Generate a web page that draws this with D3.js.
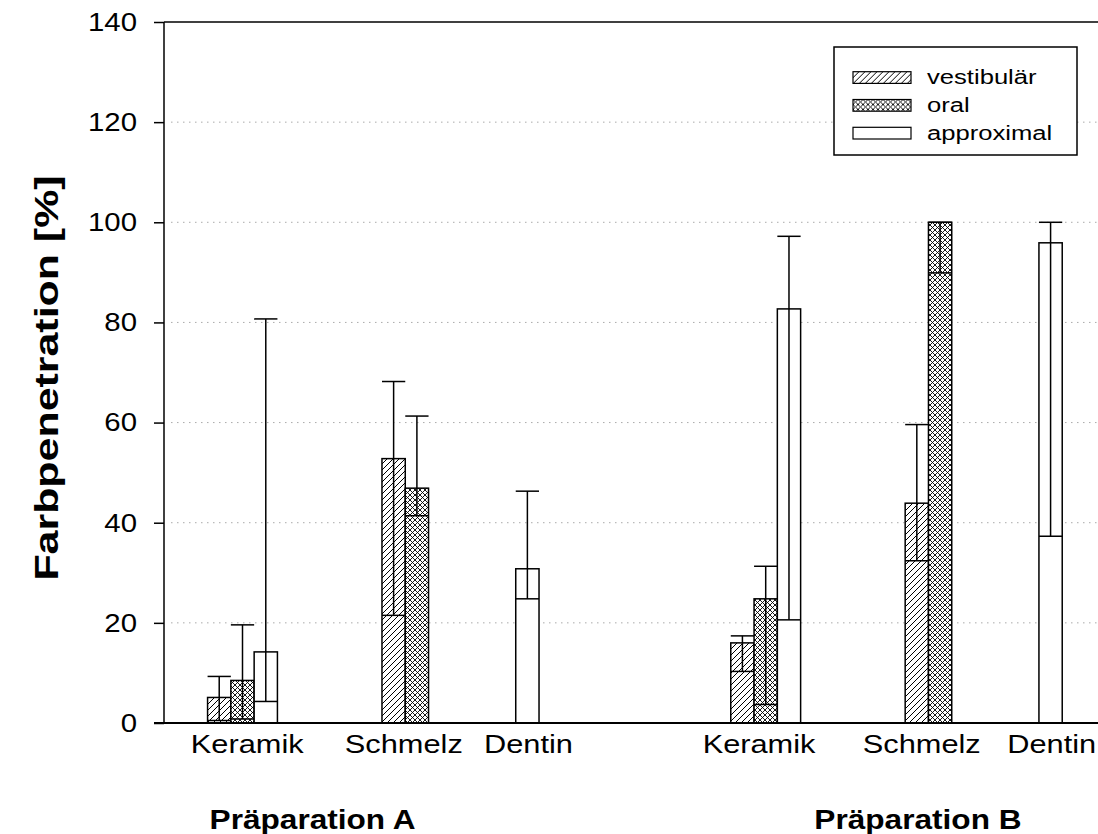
<!DOCTYPE html>
<html>
<head>
<meta charset="utf-8">
<script src="https://d3js.org/d3.v7.min.js"></script>
<style>
  body { margin: 0; background: #fff; }
  text { font-family: "Liberation Sans", Arial, sans-serif; fill: #000; }
</style>
</head>
<body>
<div id="chart"></div>
<script>
// categories along the x axis (numeric positions, gaps between preparations)
var categories = ["Keramik", "Schmelz", "Dentin", "Keramik", "Schmelz", "Dentin"];
var catPos     = [1, 3, 4, 7, 9, 10];
var labelPos   = [1.054, 2.85, 4.28, 6.924, 8.79, 10.28];
var groups     = ["Präparation A", "Präparation B"];
var groupPos   = [1.804, 8.746];

var series = ["vestibulär", "oral", "approximal"];

// mean values [%]
var vestibular = [5.1, 52.8, null, 16.0, 43.9, null];
var oral       = [8.5, 46.9, null, 24.8, 100, null];
var approximal = [14.2, null, 30.8, 82.7, null, 95.9];

// error bar ends
var vestibularHi = [9.3, 68.2, null, 17.4, 59.6, null];
var vestibularLo = [0.5, 21.5, null, 10.3, 32.4, null];
var oralHi       = [19.6, 61.3, null, 31.3, 100, null];
var oralLo       = [0.8, 41.4, null, 3.7, 89.9, null];
var approximalHi = [80.7, null, 46.3, 97.2, null, 100];
var approximalLo = [4.3, null, 24.8, 20.6, null, 37.3];

var yTicks = [0, 20, 40, 60, 80, 100, 120, 140];

var width = 1098, height = 834;
var plotLeft = 164, plotTop = 22, plotBottom = 723;

var x = d3.scaleLinear().domain([1, 10]).range([242.5, 1027.3]);
var y = d3.scaleLinear().domain([0, 140]).range([plotBottom, plotTop]);
var barW = x(1.267) - x(1);

var svg = d3.select("#chart").append("svg")
    .attr("width", width)
    .attr("height", height);

// stretch text horizontally like the original export
function stretch(sel, k) {
  sel.each(function() {
    var w = this.getComputedTextLength();
    this.setAttribute("textLength", w * k);
    this.setAttribute("lengthAdjust", "spacingAndGlyphs");
  });
}

var defs = svg.append("defs");
var p1 = defs.append("pattern").attr("id", "hatch")
    .attr("patternUnits", "userSpaceOnUse").attr("width", 6).attr("height", 6);
p1.append("rect").attr("width", 6).attr("height", 6).attr("fill", "#fff");
p1.append("path").attr("d", "M-1,1 l2,-2 M0,6 l6,-6 M5,7 l2,-2")
    .attr("stroke", "#000").attr("stroke-width", 1);

var p2 = defs.append("pattern").attr("id", "cross")
    .attr("patternUnits", "userSpaceOnUse").attr("width", 5).attr("height", 5);
p2.append("rect").attr("width", 5).attr("height", 5).attr("fill", "#fff");
p2.append("path").attr("d", "M-1,1 l2,-2 M0,5 l5,-5 M4,6 l2,-2 M-1,4 l2,2 M0,0 l5,5 M4,-1 l2,2")
    .attr("stroke", "#000").attr("stroke-width", 0.9);

var fills = ["url(#hatch)", "url(#cross)", "#fff"];

// dotted grid lines
svg.append("g").selectAll("line")
  .data(yTicks.filter(function(d) { return d > 0 && d < 140; }))
  .enter().append("line")
    .attr("x1", plotLeft + 7).attr("x2", width)
    .attr("y1", function(d) { return y(d); })
    .attr("y2", function(d) { return y(d); })
    .attr("stroke", "#aaa")
    .attr("stroke-width", 1)
    .attr("stroke-dasharray", "1.5,4.5");

// bars
var means = [vestibular, oral, approximal];
var his = [vestibularHi, oralHi, approximalHi];
var los = [vestibularLo, oralLo, approximalLo];

var rows = [];
series.forEach(function(s, si) {
  catPos.forEach(function(c, ci) {
    if (means[si][ci] != null)
      rows.push({ s: si, x: c, v: means[si][ci], hi: his[si][ci], lo: los[si][ci] });
  });
});

function bx(d) { return x(d.x) + (d.s - 1.5) * barW; }

svg.append("g").selectAll("rect")
  .data(rows).enter().append("rect")
    .attr("x", bx)
    .attr("y", function(d) { return y(d.v); })
    .attr("width", barW)
    .attr("height", function(d) { return y(0) - y(d.v); })
    .attr("fill", function(d) { return fills[d.s]; })
    .attr("stroke", "#000")
    .attr("stroke-width", 1.5);

// error bars
var eb = svg.append("g").attr("stroke", "#000").attr("stroke-width", 1.5);
eb.selectAll(".v").data(rows).enter().append("line")
    .attr("x1", function(d) { return bx(d) + barW / 2; })
    .attr("x2", function(d) { return bx(d) + barW / 2; })
    .attr("y1", function(d) { return y(d.lo); })
    .attr("y2", function(d) { return y(d.hi); });
eb.selectAll(".hi").data(rows).enter().append("line")
    .attr("x1", bx)
    .attr("x2", function(d) { return bx(d) + barW; })
    .attr("y1", function(d) { return y(d.hi); })
    .attr("y2", function(d) { return y(d.hi); });
eb.selectAll(".lo").data(rows).enter().append("line")
    .attr("x1", bx)
    .attr("x2", function(d) { return bx(d) + barW; })
    .attr("y1", function(d) { return y(d.lo); })
    .attr("y2", function(d) { return y(d.lo); });

// axes / frame
var yAxis = svg.append("g")
    .attr("transform", "translate(" + plotLeft + ",0)")
    .call(d3.axisLeft(y).tickValues(yTicks).tickSize(10).tickPadding(17));
yAxis.select(".domain").remove();
yAxis.selectAll("line").attr("stroke-width", 1.5);
yAxis.selectAll("text").style("font-size", "26px")
    .style("font-family", "'Liberation Sans', Arial, sans-serif")
    .call(stretch, 1.13);

svg.append("line").attr("x1", plotLeft).attr("x2", plotLeft).attr("y1", plotTop).attr("y2", plotBottom)
    .attr("stroke", "#000").attr("stroke-width", 1.5);
svg.append("line").attr("x1", plotLeft).attr("x2", width).attr("y1", plotTop).attr("y2", plotTop)
    .attr("stroke", "#000").attr("stroke-width", 1.5);
svg.append("line").attr("x1", plotLeft - 10).attr("x2", width).attr("y1", plotBottom).attr("y2", plotBottom)
    .attr("stroke", "#000").attr("stroke-width", 2);

// category labels
svg.append("g").selectAll("text")
  .data(categories).enter().append("text")
    .attr("x", function(d, i) { return x(labelPos[i]); })
    .attr("y", 753)
    .attr("text-anchor", "middle")
    .style("font-size", "25px")
    .text(function(d) { return d; })
    .call(stretch, 1.23);

svg.append("g").selectAll("text")
  .data(groups).enter().append("text")
    .attr("x", function(d, i) { return x(groupPos[i]); })
    .attr("y", 829)
    .attr("text-anchor", "middle")
    .style("font-size", "27px")
    .style("font-weight", "bold")
    .text(function(d) { return d; })
    .call(stretch, 1.17);

// y title
svg.append("text")
    .attr("transform", "translate(58,378) rotate(-90)")
    .attr("text-anchor", "middle")
    .style("font-size", "33px")
    .style("font-weight", "bold")
    .text("Farbpenetration [%]")
    .call(stretch, 1.3);

// legend
var lg = svg.append("g");
lg.append("rect").attr("x", 834).attr("y", 47).attr("width", 243).attr("height", 108)
    .attr("fill", "#fff").attr("stroke", "#000").attr("stroke-width", 1.5);
var item = lg.selectAll(".item").data(series).enter().append("g")
    .attr("transform", function(d, i) { return "translate(853," + (71.7 + i * 27.8) + ")"; });
item.append("rect").attr("width", 58).attr("height", 11.7)
    .attr("fill", function(d, i) { return fills[i]; })
    .attr("stroke", "#000").attr("stroke-width", 1.2);
item.append("text").attr("x", 74).attr("y", 12.5)
    .style("font-size", "20px")
    .text(function(d) { return d; })
    .call(stretch, 1.28);
</script>
</body>
</html>
